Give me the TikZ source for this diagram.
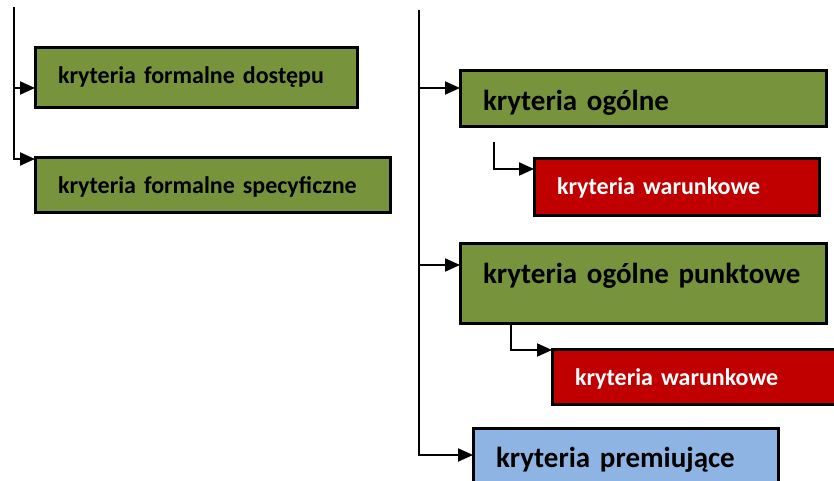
\documentclass[tikz,border=0pt]{standalone}
\usepackage{fontspec}
\setmainfont{Carlito}
\usetikzlibrary{arrows.meta}
\definecolor{olivefill}{HTML}{77933C}
\definecolor{redfill}{HTML}{C00000}
\definecolor{bluefill}{HTML}{8EB4E3}
\begin{document}
\begin{tikzpicture}[x=1pt,y=-1pt,
  box/.style={draw=black,line width=3pt,anchor=north west,inner xsep=23pt,inner ysep=0pt,outer sep=0pt,align=left,font=\bfseries\fontsize{24}{28}\selectfont},
  bigtext/.style={font=\bfseries\fontsize{29}{34}\selectfont},
  olivebox/.style={box,fill=olivefill,text=black},
  redbox/.style={box,fill=redfill,text=white},
  bluebox/.style={box,fill=bluefill,text=black},
  arr/.style={line width=2pt,-{Triangle[length=15pt,width=13pt]}}]
\useasboundingbox (0,0) rectangle (834,481);
\clip (0,0) rectangle (834,481);
\node[olivebox,text width=276pt,text height=36pt,text depth=24pt] (fd) at (35,48) {kryteria formalne dostępu};
\node[olivebox,text width=309pt,text height=35pt,text depth=19pt] (fs) at (35,158) {kryteria formalne specyficzne};
\node[olivebox,bigtext,text width=320pt,text height=40pt,text depth=16pt] (og) at (460,71) {kryteria ogólne};
\node[redbox,text width=239pt,text height=35pt,text depth=21pt] (wa1) at (534,159) {kryteria warunkowe};
\node[olivebox,bigtext,text width=320pt,text height=40pt,text depth=40pt] (pk) at (460,243) {kryteria ogólne punktowe};
\node[redbox,text width=239pt,text height=36pt,text depth=19pt] (wa2) at (552,349) {kryteria warunkowe};
\node[bluebox,bigtext,text width=259pt,text height=39pt,text depth=15pt] (pr) at (473,428) {kryteria premiujące};
\coordinate (ltop) at (14,7);
\coordinate (rtop) at (419,10);
\coordinate (sub1) at (494,142);
\draw[arr] (ltop) |- ([yshift=-10pt]fd.west);
\draw[arr] (ltop) |- ([yshift=-1pt]fs.north west);
\draw[arr] (rtop) |- ([yshift=11pt]og.west);
\draw[arr] (rtop) |- ([yshift=18pt]pk.west);
\draw[arr] (rtop) |- (pr.west);
\draw[arr] (sub1) |- ([yshift=18pt]wa1.west);
\draw[arr] ([xshift=51pt]pk.south west) |- ([yshift=-1pt]wa2.north west);
\end{tikzpicture}
\end{document}
